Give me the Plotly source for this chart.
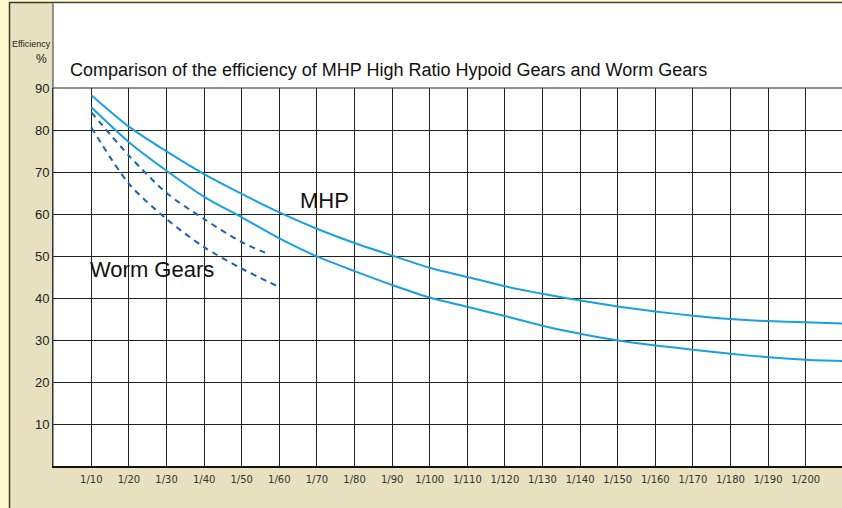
import plotly.graph_objects as go

# ---- data ----
ratios = [10, 20, 30, 40, 50, 60, 70, 80, 90, 100, 110, 120, 130, 140, 150, 160, 170, 180, 190, 200, 210]
mhp_upper = [88.3, 80.8, 74.9, 69.5, 64.8, 60.4, 56.5, 53.1, 50.1, 47.2, 45.0, 42.8, 41.0, 39.4, 38.0, 36.8, 35.8, 35.0, 34.5, 34.2, 33.9]
mhp_lower = [85.4, 77.1, 70.3, 64.1, 59.2, 54.2, 49.9, 46.4, 43.1, 40.1, 37.9, 35.7, 33.4, 31.5, 29.9, 28.7, 27.7, 26.7, 25.9, 25.3, 25.0]

worm_upper_ratios = [10, 20, 30, 40, 50, 57]
worm_upper = [84.2, 73.9, 65.0, 58.8, 53.3, 50.5]
worm_lower_ratios = [10, 20, 30, 40, 50, 60]
worm_lower = [80.6, 67.2, 58.8, 52.1, 47.0, 42.6]

x_tick_vals = [10, 20, 30, 40, 50, 60, 70, 80, 90, 100, 110, 120, 130, 140, 150, 160, 170, 180, 190, 200]
x_tick_text = ["1/" + str(v) for v in x_tick_vals]
y_tick_vals = [10, 20, 30, 40, 50, 60, 70, 80, 90]

TITLE = "Comparison of the efficiency of MHP High Ratio Hypoid Gears and Worm Gears"

# ---- layout geometry (pixels) ----
W, H = 842, 508
ML, MR, MT, MB = 53, 0, 88, 42
PW, PH = W - ML - MR, H - MT - MB


def px(x):
    return (x - ML) / PW


def py(y):
    return (H - MB - y) / PH


SOLID = "#18A1E1"
DASH = "#1C62B2"

fig = go.Figure()
fig.add_trace(go.Scatter(x=ratios, y=mhp_upper, mode="lines",
                         line=dict(color=SOLID, width=2, shape="spline", smoothing=0.8),
                         showlegend=False, hoverinfo="skip"))
fig.add_trace(go.Scatter(x=ratios, y=mhp_lower, mode="lines",
                         line=dict(color=SOLID, width=2, shape="spline", smoothing=0.8),
                         showlegend=False, hoverinfo="skip"))
fig.add_trace(go.Scatter(x=worm_upper_ratios, y=worm_upper, mode="lines",
                         line=dict(color=DASH, width=2, dash="6px,5px", shape="spline", smoothing=0.8),
                         showlegend=False, hoverinfo="skip"))
fig.add_trace(go.Scatter(x=worm_lower_ratios, y=worm_lower, mode="lines",
                         line=dict(color=DASH, width=2, dash="6px,5px", shape="spline", smoothing=0.8),
                         showlegend=False, hoverinfo="skip"))

shapes = [
    # beige panel with dark top/left border
    dict(type="rect", xref="paper", yref="paper", x0=px(9.5), x1=px(W + 10), y0=py(H + 10), y1=py(2.5),
         fillcolor="#E8E1C0", line=dict(color="#3a3a30", width=1.5), layer="below"),
    # white area: title region + plot region
    dict(type="rect", xref="paper", yref="paper", x0=px(53), x1=px(W + 10), y0=0, y1=py(3.5),
         fillcolor="#FFFFFF", line=dict(width=0), layer="below"),
    # left dividing line
    dict(type="line", xref="paper", yref="paper", x0=px(53), x1=px(53), y0=0, y1=py(3.5),
         line=dict(color="#333333", width=1)),
    # top grid line (90 %)
    dict(type="line", xref="paper", yref="paper", x0=0, x1=1, y0=1, y1=1,
         line=dict(color="#222222", width=1.2)),
]

annotations = [
    dict(text=TITLE, xref="paper", yref="paper", x=px(68), y=py(70), xanchor="left", yanchor="middle",
         showarrow=False, font=dict(family="Liberation Sans, Arial, sans-serif", size=18, color="#111111")),
    dict(text="Efficiency", xref="paper", yref="paper", x=px(31), y=py(44.5), xanchor="center", yanchor="middle",
         showarrow=False, font=dict(family="Liberation Sans Narrow, Arial Narrow, sans-serif", size=9, color="#222222")),
    dict(text="%", xref="paper", yref="paper", x=px(41), y=py(59), xanchor="center", yanchor="middle",
         showarrow=False, font=dict(family="Liberation Sans Narrow, Arial Narrow, sans-serif", size=12, color="#222222")),
    dict(text="MHP", xref="x", yref="y", x=72, y=63.3, xanchor="center", yanchor="middle",
         showarrow=False, font=dict(family="Liberation Sans, Arial, sans-serif", size=22, color="#111111")),
    dict(text="Worm Gears", xref="x", yref="y", x=26, y=46.8, xanchor="center", yanchor="middle",
         showarrow=False, font=dict(family="Liberation Sans, Arial, sans-serif", size=22, color="#111111")),
]

fig.update_layout(
    width=W, height=H, autosize=False,
    margin=dict(l=ML, r=MR, t=MT, b=MB, pad=0),
    paper_bgcolor="#FFFBCF",
    plot_bgcolor="#FFFFFF",
    shapes=shapes,
    annotations=annotations,
    xaxis=dict(range=[-0.2, 209.65], tickvals=x_tick_vals, ticktext=x_tick_text,
               showgrid=True, gridcolor="#222222", gridwidth=1, zeroline=False,
               showline=True, linecolor="#111111", linewidth=2,
               ticks="outside", ticklen=3, tickcolor="rgba(0,0,0,0)",
               tickfont=dict(family="DejaVu Sans, sans-serif", size=10, color="#333333"),
               fixedrange=True),
    yaxis=dict(range=[0, 90], tickvals=y_tick_vals,
               showgrid=True, gridcolor="#222222", gridwidth=1, zeroline=False,
               showline=True, linecolor="#333333", linewidth=1,
               ticks="", tickfont=dict(family="Liberation Sans Narrow, Arial Narrow, sans-serif", size=13, color="#222222"),
               fixedrange=True),
)

fig.write_html("out.html", config={"displayModeBar": False},
               post_script="document.body.style.margin='0';document.body.style.overflow='hidden';")
